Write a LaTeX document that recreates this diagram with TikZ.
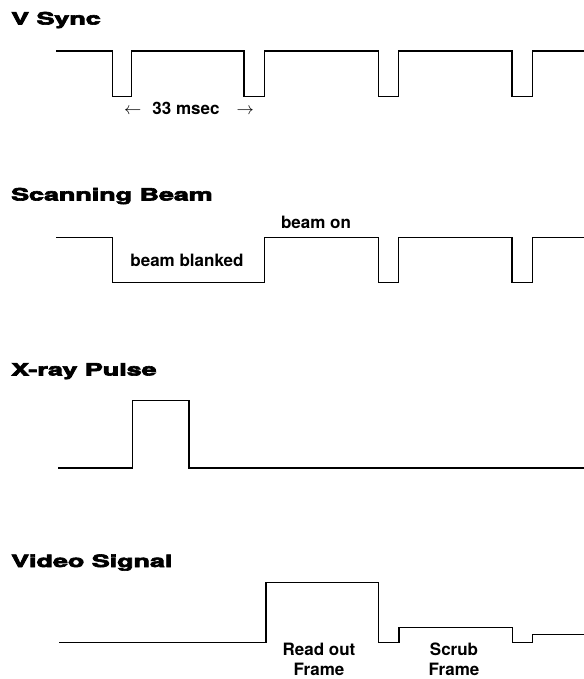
\documentclass[tikz,border=0pt]{standalone}
\usepackage{fontspec}
\setmainfont{TeX Gyre Heros}
\newfontfamily\heavy{TeX Gyre Heros Bold}[FakeBold=3.5]
\tikzset{
  wave/.style={line width=1.4pt, line join=miter, line cap=rect},
  title/.style={anchor=base west, inner sep=0pt, font=\heavy\fontsize{17}{18}\selectfont},
  lbl/.style={anchor=base, inner sep=0pt, font=\bfseries\fontsize{17}{20}\selectfont, align=center}
}
\newcommand{\wide}[1]{\scalebox{1.58}[1]{#1}}
\begin{document}
\begin{tikzpicture}[x=1pt,y=-1pt]
\useasboundingbox (0,0) rectangle (583,679);
% V Sync
\node[title] (t1) at (11,24.5) {\wide{V Sync}};
\draw[wave] (56.7,51) -- (112.5,51) -- (112.5,96.7) -- (131.7,96.7) -- (131.7,51)
  -- (244,51) -- (244,96.7) -- (264.7,96.7) -- (264.7,51)
  -- (378.2,51) -- (378.2,96.7) -- (398.4,96.7) -- (398.4,51)
  -- (511.8,51) -- (511.8,96.7) -- (532.5,96.7) -- (532.5,51) -- (583,51);
\node[lbl, anchor=base west] (p1) at (124,115) {$\leftarrow$\hspace{11pt}33 msec\hspace{17pt}$\rightarrow$};
% Scanning Beam
\node[title] (t2) at (11,200.5) {\wide{Scanning Beam}};
\draw[wave] (57,237.5) -- (112.5,237.5) -- (112.5,282.5) -- (264.7,282.5) -- (264.7,237.5)
  -- (378.2,237.5) -- (378.2,282.5) -- (398.4,282.5) -- (398.4,237.5)
  -- (511.8,237.5) -- (511.8,282.5) -- (532.5,282.5) -- (532.5,237.5) -- (583,237.5);
\node[lbl] (bon) at (316,228) {beam on};
\node[lbl] (bbl) at (187,266) {beam blanked};
% X-ray Pulse
\node[title] (t3) at (11,375.5) {\wide{X-ray Pulse}};
\draw[wave] (59,468) -- (132.7,468) -- (132.7,400.7) -- (189,400.7) -- (189,468) -- (583,468);
% Video Signal
\node[title] (t4) at (11,567) {\wide{Video Signal}};
\draw[wave] (59.5,642.3) -- (266,642.3) -- (266,582.7) -- (378.3,582.7) -- (378.3,642.3)
  -- (399,642.3) -- (399,627.5) -- (512.5,627.5) -- (512.5,642.3) -- (532.7,642.3)
  -- (532.7,634.5) -- (583,634.5);
\node[lbl] (ro) at (319,675) {Read out\\Frame};
\node[lbl] (sc) at (454,675) {Scrub\\Frame};
\end{tikzpicture}
\end{document}
